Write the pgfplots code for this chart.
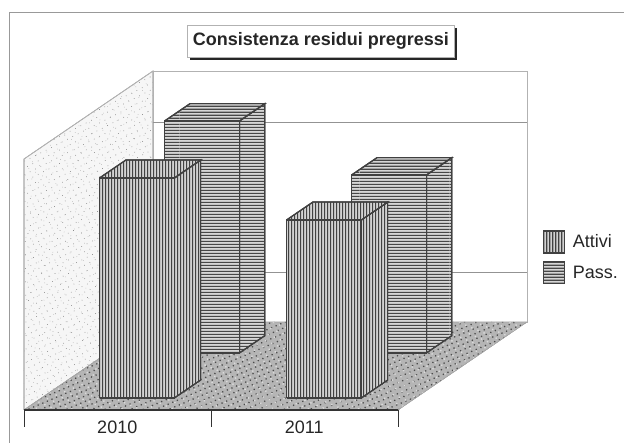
\documentclass[border=0pt]{standalone}
\usepackage{fontspec}
\setmainfont{Liberation Sans}
\usepackage{pgfplots}
\pgfplotsset{compat=1.18}
\usetikzlibrary{patterns,patterns.meta,shadows}

% long tiles, the short ones leave seams in the raster
\pgfdeclarepatternformonly{hstripes}{\pgfpointorigin}{\pgfqpoint{90pt}{3pt}}{\pgfqpoint{90pt}{3pt}}{%
  \pgfpathrectangle{\pgfpointorigin}{\pgfqpoint{90pt}{1.6pt}}\pgfusepath{fill}}
\pgfdeclarepatternformonly{vstripes}{\pgfpointorigin}{\pgfqpoint{3pt}{250pt}}{\pgfqpoint{3pt}{250pt}}{%
  \pgfpathrectangle{\pgfpointorigin}{\pgfqpoint{1.6pt}{250pt}}\pgfusepath{fill}}

\definecolor{edge}{gray}{0.25}
\pgfplotsset{
    attivi/.style={draw=edge, line width=1.2pt, fill=gray!35,
        postaction={pattern=vstripes, pattern color=black!74}},
    pass/.style={draw=edge, line width=1.2pt, fill=gray!32,
        postaction={pattern=hstripes, pattern color=black!72}},
    thinline/.style={draw=gray!60, line width=0.6pt, mark=none, forget plot},
}

% box: x0 x1 (category axis), y0 y1 (depth), value, style
\newcommand{\drawbox}[6]{%
  \addplot3[#6, forget plot] coordinates {(#2,#3,0) (#2,#4,0) (#2,#4,#5) (#2,#3,#5) (#2,#3,0)};
  \addplot3[#6, forget plot] coordinates {(#1,#3,#5) (#2,#3,#5) (#2,#4,#5) (#1,#4,#5) (#1,#3,#5)};
  \addplot3[#6, forget plot] coordinates {(#1,#3,0) (#2,#3,0) (#2,#3,#5) (#1,#3,#5) (#1,#3,0)};
}

\begin{document}
\begin{tikzpicture}
\useasboundingbox (-24pt,-33pt) rectangle (600pt,410pt);
\begin{axis}[
    at={(0,0)}, anchor=origin,
    x={(187pt,0pt)}, y={(129pt,88pt)}, z={(0pt,1pt)},
    xmin=0, xmax=2, ymin=0, ymax=1, zmin=0, zmax=251,
    clip=false,
    axis line style={draw=none},
    xtick={0.5,1.5}, xticklabels={2010,2011},
    ytick=\empty, ztick=\empty,
    major tick length=0pt,
    xticklabel style={font=\fontsize{18}{20}\selectfont, xshift=5pt, yshift=-7pt, text=black!85},
    legend style={draw=none, fill=none, at={(0.965,0.43)}, anchor=north west,
        xshift=33pt, yshift=34pt, text=black!85,
        font=\fontsize{18}{20}\selectfont, legend cell align=left,
        row sep=7.5pt, inner sep=0pt},
    legend image code/.code={\path[#1] (0pt,-11pt) rectangle (21pt,11pt);},
]
\addlegendimage{attivi}
\addlegendentry{\hspace*{6pt}Attivi}
\addlegendimage{pass}
\addlegendentry{\hspace*{6pt}Pass.}

% chart frame
\addplot3[thinline, draw=gray!80] coordinates {(-0.08,0,-33) (-0.08,0,398) (3.21,0,398)};

% left wall
\addplot3[thinline, fill=gray!7,
    postaction={pattern={Dots[radius=0.45pt,distance=6pt,angle=27]}, pattern color=black!50},
    postaction={pattern={Dots[radius=0.35pt,distance=7.7pt,angle=61]}, pattern color=black!40}]
    coordinates {(0,0,0) (0,1,0) (0,1,251) (0,0,251) (0,0,0)};
% back wall
\addplot3[thinline, fill=white] coordinates {(0,1,0) (2,1,0) (2,1,251) (0,1,251) (0,1,0)};
\addplot3[thinline, draw=gray!85] coordinates {(0,1,50) (2,1,50)};
\addplot3[thinline, draw=gray!85] coordinates {(0,1,200) (2,1,200)};
% floor
\addplot3[draw=gray!70, fill=gray!58, mark=none, forget plot,
    postaction={pattern={Dots[radius=0.9pt,distance=5pt,angle=23]}, pattern color=black!70},
    postaction={pattern={Dots[radius=1pt,distance=6.6pt,angle=67]}, pattern color=white!70!gray}]
    coordinates {(0,0,0) (2,0,0) (2,1,0) (0,1,0) (0,0,0)};

% Pass. (back row)
\drawbox{0.305}{0.705}{0.648}{0.845}{232}{pass}
\drawbox{1.305}{1.705}{0.648}{0.845}{178}{pass}
% Attivi (front row)
\drawbox{0.31}{0.71}{0.136}{0.34}{220}{attivi}
\drawbox{1.31}{1.71}{0.136}{0.34}{178}{attivi}

% category axis with ticks
\addplot3[draw=black!80, line width=1.1pt, mark=none, forget plot] coordinates {(0,0,0) (2,0,0)};
\addplot3[draw=black!80, line width=0.9pt, mark=none, forget plot] coordinates {(0,0,0) (0,0,-17)};
\addplot3[draw=black!80, line width=0.9pt, mark=none, forget plot] coordinates {(1,0,0) (1,0,-17)};
\addplot3[draw=black!80, line width=0.9pt, mark=none, forget plot] coordinates {(2,0,0) (2,0,-17)};

\node[draw=gray!60, line width=0.6pt, fill=white, minimum width=267pt, minimum height=32pt,
      inner sep=0pt, text=black!85, font=\fontsize{18}{20}\bfseries\selectfont,
      drop shadow={shadow xshift=3pt, shadow yshift=-3pt, fill=black!85, opacity=1}]
      at (axis cs:1.588,0,369) {Consistenza residui pregressi};
\end{axis}
\end{tikzpicture}
\end{document}
